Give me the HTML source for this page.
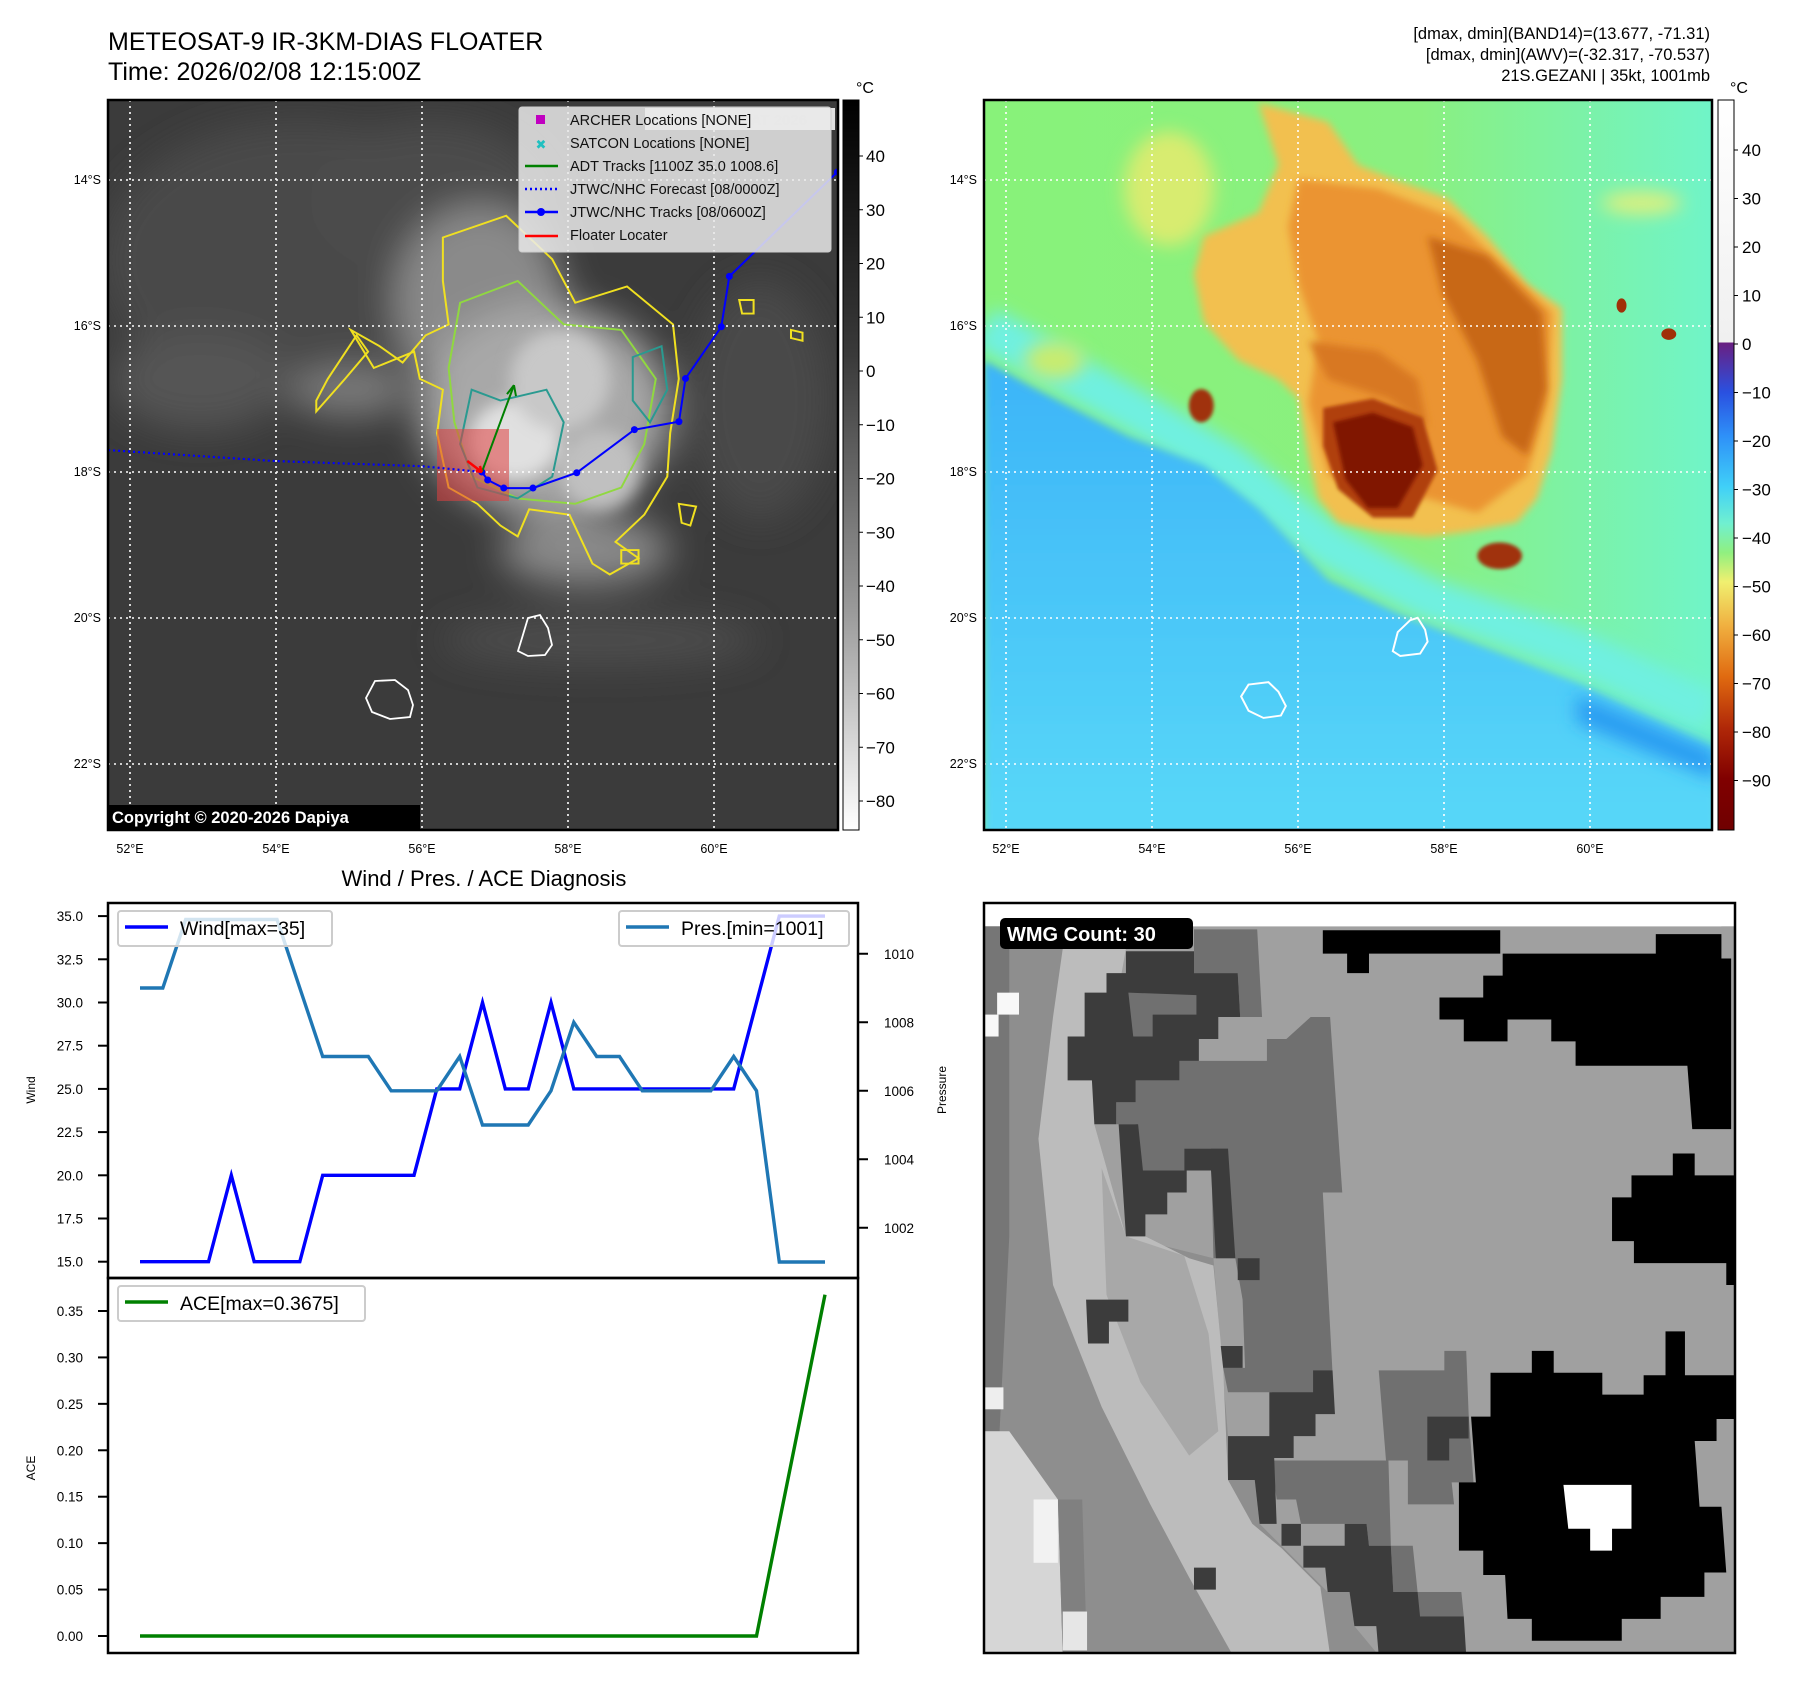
<!DOCTYPE html>
<html><head><meta charset="utf-8">
<style>
html,body{margin:0;padding:0;background:#fff;}
svg{display:block;font-family:"Liberation Sans","DejaVu Sans",sans-serif;}
</style></head>
<body>
<svg id="fig" width="1801" height="1690" viewBox="0 0 1801 1690" xmlns="http://www.w3.org/2000/svg">
<defs>
 <filter id="b20" x="-50%" y="-50%" width="200%" height="200%"><feGaussianBlur stdDeviation="18"/></filter>
 <filter id="b8" x="-50%" y="-50%" width="200%" height="200%"><feGaussianBlur stdDeviation="8"/></filter>
 <filter id="b4" x="-50%" y="-50%" width="200%" height="200%"><feGaussianBlur stdDeviation="4"/></filter>
 <clipPath id="clipL"><rect x="108" y="100" width="730" height="730"/></clipPath>
 <clipPath id="clipR"><rect x="984" y="100" width="728" height="730"/></clipPath>
 <clipPath id="clipW"><rect x="984" y="903" width="751" height="750"/></clipPath>
 <linearGradient id="cbL" x1="0" y1="0" x2="0" y2="1">
  <stop offset="0" stop-color="#000"/><stop offset="0.35" stop-color="#3a3a3a"/><stop offset="0.7" stop-color="#9a9a9a"/><stop offset="1" stop-color="#fff"/>
 </linearGradient>
 <linearGradient id="cbR" x1="0" y1="0" x2="0" y2="1">
  <stop offset="0" stop-color="#ffffff"/><stop offset="0.332" stop-color="#f0f0f0"/>
  <stop offset="0.3321" stop-color="#6a1f80"/><stop offset="0.40" stop-color="#2a50e0"/>
  <stop offset="0.46" stop-color="#2e90f8"/><stop offset="0.53" stop-color="#40d0f8"/>
  <stop offset="0.58" stop-color="#70f0d0"/><stop offset="0.62" stop-color="#90f080"/>
  <stop offset="0.66" stop-color="#f0f070"/><stop offset="0.72" stop-color="#f0b040"/>
  <stop offset="0.79" stop-color="#e06a10"/><stop offset="0.86" stop-color="#b02808"/>
  <stop offset="0.93" stop-color="#800000"/><stop offset="1" stop-color="#700000"/>
 </linearGradient>
 <linearGradient id="greenBg" x1="0" y1="0" x2="1" y2="0">
  <stop offset="0" stop-color="#88f27a"/><stop offset="0.6" stop-color="#8af080"/><stop offset="1" stop-color="#70f4c8"/>
 </linearGradient>
 <linearGradient id="blueBg" x1="0" y1="0" x2="0" y2="1">
  <stop offset="0" stop-color="#3cb4f8"/><stop offset="1" stop-color="#58d8f8"/>
 </linearGradient>
</defs>

<!-- Titles -->
<text x="108" y="50" font-size="25">METEOSAT-9 IR-3KM-DIAS FLOATER</text>
<text x="108" y="80" font-size="25">Time: 2026/02/08 12:15:00Z</text>
<g font-size="16.5" text-anchor="end">
 <text x="1710" y="39">[dmax, dmin](BAND14)=(13.677, -71.31)</text>
 <text x="1710" y="60">[dmax, dmin](AWV)=(-32.317, -70.537)</text>
 <text x="1710" y="81">21S.GEZANI | 35kt, 1001mb</text>
</g>

<!-- LEFT IR MAP -->
<g id="leftMap" clip-path="url(#clipL)">
 <rect x="108" y="100" width="730" height="730" fill="#3b3b3b"/>
 <g filter="url(#b20)">
  <ellipse cx="300" cy="260" rx="200" ry="140" fill="#4a4a4a"/>
  <ellipse cx="200" cy="380" rx="90" ry="50" fill="#555"/>
  <ellipse cx="430" cy="200" rx="120" ry="80" fill="#4c4c4c"/>
  <ellipse cx="480" cy="300" rx="85" ry="95" fill="#8a8a8a"/>
  <ellipse cx="545" cy="410" rx="125" ry="105" fill="#a8a8a8"/>
  <ellipse cx="350" cy="392" rx="60" ry="25" fill="#7a7a7a"/>
  <ellipse cx="585" cy="550" rx="85" ry="35" fill="#8a8a8a"/>
  <ellipse cx="600" cy="640" rx="160" ry="25" fill="#4e4e4e"/>
  <ellipse cx="760" cy="400" rx="70" ry="120" fill="#4a4a4a"/>
 </g>
 <g filter="url(#b8)">
  <ellipse cx="515" cy="440" rx="45" ry="40" fill="#e0e0e0"/>
  <ellipse cx="560" cy="380" rx="50" ry="50" fill="#c8c8c8"/>
  <ellipse cx="600" cy="470" rx="40" ry="40" fill="#c0c0c0"/>
 </g>
 <g transform="translate(108,100) scale(0.5754,0.5435) translate(-188,-187)" fill="none" stroke-width="3.5">
  <path d="M770,440 L880,400 L960,480 L1000,560 L1090,530 L1170,600 L1180,700 L1165,800 L1160,880 L1120,950 L1070,1000 L1110,1030 L1060,1060 L1030,1040 L990,950 L920,940 L900,990 L870,970 L830,930 L780,900 L760,800 L770,720 L730,700 L720,650 L650,680 L610,610 L660,640 L700,670 L740,620 L780,600 L770,520 Z" stroke="#f0e020"/>
  <path d="M550,760 L600,700 L640,650 L620,620 L570,700 L550,740 Z" stroke="#f0e020"/>
  <path d="M800,560 L900,520 L980,600 L1080,610 L1140,700 L1120,820 L1080,900 L1000,930 L900,920 L820,880 L790,780 L780,680 Z" stroke="#90d840"/>
  <path d="M820,720 L870,740 L950,720 L980,780 L960,880 L900,920 L830,900 L800,820 Z" stroke="#2a9a90"/>
  <path d="M1100,660 L1150,640 L1160,720 L1130,780 L1100,740 Z" stroke="#2a9a90"/>
  <path d="M1285,555 L1310,555 L1310,580 L1290,580 Z M1375,610 L1395,615 L1395,630 L1375,625 Z M1180,930 L1210,935 L1200,970 L1185,965 Z M1080,1015 L1110,1015 L1110,1040 L1080,1040 Z" stroke="#f0e020"/>
 </g>
 <path d="M528,618 L540,615 L548,628 L552,645 L545,655 L528,656 L518,651 L522,638 Z" fill="none" stroke="#fff" stroke-width="1.8"/>
 <path d="M375,681 L395,680 L408,690 L413,705 L410,717 L390,719 L372,712 L366,698 Z" fill="none" stroke="#fff" stroke-width="1.8"/>
 <rect x="437" y="429" width="72" height="72" fill="#e04040" fill-opacity="0.55"/>
 <g id="gridL" stroke="#fff" stroke-width="1.6" stroke-dasharray="2,4"></g>
 <g id="tracksL"></g>
 <rect x="645" y="108" width="190" height="22" fill="#fff" fill-opacity="0.85"/>
 <text x="740" y="125" font-size="15" font-weight="bold" fill="#ddd" text-anchor="middle">© EUMETSAT 2026</text>
</g>
<rect x="108" y="100" width="730" height="730" fill="none" stroke="#000" stroke-width="2.5"/>
<g>
 <rect x="519" y="107" width="312" height="145" rx="3" fill="#eaeaea" fill-opacity="0.85" stroke="#ccc"/>
 <rect x="536" y="115" width="9" height="9" fill="#c000c0"/>
 <text x="541" y="149" font-size="13" font-weight="bold" fill="#20c0c0" text-anchor="middle">✖</text>
 <line x1="525" y1="166" x2="558" y2="166" stroke="#008000" stroke-width="2.5"/>
 <line x1="525" y1="189" x2="558" y2="189" stroke="#0000ff" stroke-width="2.5" stroke-dasharray="2,3"/>
 <line x1="525" y1="212" x2="558" y2="212" stroke="#0000ff" stroke-width="2.5"/><circle cx="541" cy="212" r="4" fill="#0000ff"/>
 <line x1="525" y1="236" x2="558" y2="236" stroke="#ff0000" stroke-width="2.5"/>
 <g font-size="14.5" fill="#111">
  <text x="570" y="125">ARCHER Locations [NONE]</text>
  <text x="570" y="148">SATCON Locations [NONE]</text>
  <text x="570" y="171">ADT Tracks [1100Z 35.0 1008.6]</text>
  <text x="570" y="194">JTWC/NHC Forecast [08/0000Z]</text>
  <text x="570" y="217">JTWC/NHC Tracks [08/0600Z]</text>
  <text x="570" y="240">Floater Locater</text>
 </g>
</g>
<rect x="108" y="805" width="312" height="25" fill="#000"/>
<text x="112" y="823" font-size="16.5" font-weight="bold" fill="#fff">Copyright © 2020-2026 Dapiya</text>

<rect x="843" y="100" width="16" height="730" fill="url(#cbL)" stroke="#000" stroke-width="1"/>
<text x="856" y="93" font-size="16">°C</text>
<g id="cbLticks" font-size="17"></g>

<!-- RIGHT AWV MAP -->
<g clip-path="url(#clipR)">
 <rect x="984" y="100" width="728" height="730" fill="url(#greenBg)"/>
 <g transform="translate(984,100) scale(0.4973,0.4768) translate(-8,-14)">
  <path d="M8,490 L300,660 L500,780 L700,950 L900,1060 L1200,1170 L1470,1300" fill="none" stroke="#70f0e0" stroke-width="90" filter="url(#b20)"/>
  <path d="M8,560 L150,640 L300,720 L450,780 L560,870 L700,1020 L850,1095 L1000,1155 L1200,1235 L1400,1335 L1480,1375 L1480,1560 L8,1560 Z" fill="url(#blueBg)" filter="url(#b8)"/>
  <path d="M1200,1260 L1480,1380 L1480,1440 L1200,1320 Z" fill="#2a9cf2" filter="url(#b20)"/>
  <g filter="url(#b20)">
   <ellipse cx="380" cy="200" rx="90" ry="120" fill="#d8ec70"/>
   <ellipse cx="1330" cy="230" rx="80" ry="25" fill="#d8f080"/>
   <ellipse cx="150" cy="560" rx="60" ry="40" fill="#c8ec70"/>
  </g>
  <path d="M560,20 L700,60 L760,150 L830,180 L940,220 L1020,300 L1100,400 L1170,450 L1170,600 L1150,750 L1120,850 L1080,900 L980,920 L900,930 L800,920 L720,900 L680,850 L660,760 L640,640 L600,600 L520,560 L450,480 L430,380 L450,300 L560,250 L600,150 Z" fill="#f2c050" filter="url(#b8)"/>
  <path d="M640,180 L800,200 L950,260 L1050,360 L1150,460 L1140,650 L1100,800 L1000,880 L900,850 L800,850 L700,800 L660,650 L680,520 L640,400 L620,280 Z" fill="#eb9430" filter="url(#b8)"/>
  <path d="M900,300 L1020,340 L1130,460 L1140,620 L1100,760 L1050,720 L1000,560 L930,420 Z" fill="#c86818" filter="url(#b8)"/>
  <path d="M660,520 L800,540 L880,600 L900,700 L820,640 L700,600 Z" fill="#d87820" filter="url(#b8)"/>
  <path d="M690,660 L790,640 L890,680 L920,790 L870,890 L790,890 L720,830 L690,740 Z" fill="#b04010" filter="url(#b4)"/>
  <path d="M710,690 L790,670 L870,700 L890,780 L840,870 L780,870 L735,810 Z" fill="#801400" filter="url(#b4)"/>
  <ellipse cx="445" cy="655" rx="25" ry="35" fill="#a03008" filter="url(#b4)"/>
  <ellipse cx="1045" cy="970" rx="45" ry="28" fill="#a03008" filter="url(#b4)"/>
  <ellipse cx="1290" cy="445" rx="10" ry="15" fill="#a03008"/>
  <ellipse cx="1385" cy="505" rx="15" ry="12" fill="#a03008"/>
  <path d="M865,1105 L880,1100 L895,1125 L900,1150 L885,1175 L845,1180 L830,1170 L840,1130 Z" fill="none" stroke="#fff" stroke-width="4"/>
  <path d="M540,1240 L580,1235 L600,1255 L615,1285 L605,1305 L570,1310 L540,1295 L525,1265 Z" fill="none" stroke="#fff" stroke-width="4"/>
 </g>
 <g id="gridR" stroke="#fff" stroke-width="1.6" stroke-dasharray="2,4"></g>
</g>
<rect x="984" y="100" width="728" height="730" fill="none" stroke="#000" stroke-width="2.5"/>
<rect x="1718" y="100" width="16" height="730" fill="url(#cbR)" stroke="#000" stroke-width="1"/>
<text x="1730" y="93" font-size="16">°C</text>
<g id="cbRticks" font-size="17"></g>
<g id="mapLabels" font-size="12.5"></g>

<!-- WIND / PRES / ACE -->
<text x="484" y="886" font-size="22" text-anchor="middle">Wind / Pres. / ACE Diagnosis</text>
<g id="chart"></g>

<!-- WMG panel -->
<g clip-path="url(#clipW)">
 <rect x="984" y="903" width="751" height="750" fill="#a0a0a0"/>
 <g transform="translate(984,903) scale(0.4861,0.4873) translate(-8,-16)">
  <rect x="8" y="16" width="1545" height="48" fill="#fff"/>
  <rect x="1525" y="64" width="28" height="68" fill="#a0a0a0"/>
  <path d="M8,64 L300,64 L235,470 L300,700 L480,745 L510,1110 L565,1200 L575,1290 L665,1380 L715,1430 L760,1430 L770,1500 L820,1560 L8,1560 Z" fill="#8e8e8e"/>
  <path d="M170,110 L300,110 L235,470 L300,700 L340,700 L430,745 L480,760 L500,970 L510,1200 L560,1290 L620,1340 L700,1420 L720,1560 L520,1560 L430,1400 L350,1250 L250,1050 L150,800 L120,500 L150,250 Z" fill="#bcbcbc"/>
  <path d="M250,560 L300,700 L420,740 L470,900 L490,1100 L430,1150 L330,1000 L260,820 Z" fill="#a8a8a8"/>
  <path d="M8,64 L60,64 L60,700 L40,1100 L8,1100 Z" fill="#767676"/>
  <path d="M8,1100 L60,1100 L160,1240 L170,1560 L8,1560 Z" fill="#d6d6d6"/>
  <path d="M160,1240 L210,1240 L220,1560 L170,1560 Z" fill="#808080"/>
  <rect x="35" y="200" width="45" height="45" fill="#f8f8f8"/><rect x="8" y="245" width="30" height="45" fill="#f8f8f8"/>
  <rect x="8" y="1010" width="40" height="45" fill="#eee"/><rect x="110" y="1240" width="50" height="130" fill="#f2f2f2"/>
  <rect x="170" y="1470" width="50" height="80" fill="#e6e6e6"/>
  <path d="M320,380 L410,380 L410,340 L590,340 L590,295 L630,295 L680,250 L720,250 L745,610 L705,610 L725,980 L690,980 L690,1065 L600,1065 L600,1020 L510,1020 L500,970 L545,970 L540,830 L525,745 L480,745 L475,520 L420,520 L420,565 L330,565 L320,470 L280,470 L280,425 L320,425 Z" fill="#707070"/>
  <path d="M440,70 L570,70 L580,250 L535,250 L530,160 L440,160 Z" fill="#707070"/>
  <path d="M820,975 L955,975 L955,935 L1000,935 L1005,1065 L1015,1205 L970,1205 L975,1250 L880,1250 L880,1160 L835,1160 Z" fill="#707070"/>
  <path d="M600,1160 L700,1160 L750,1160 L840,1160 L845,1335 L800,1335 L795,1290 L660,1290 L650,1240 L610,1240 Z" fill="#707070"/>
  <path d="M845,1335 L890,1335 L900,1430 L990,1430 L995,1480 L905,1480 L850,1430 Z" fill="#707070"/>
  <path d="M300,115 L440,115 L440,160 L530,160 L535,250 L490,250 L490,295 L450,295 L450,340 L410,340 L410,380 L320,380 L320,425 L280,425 L280,470 L235,470 L230,380 L180,380 L180,290 L215,290 L215,200 L260,200 L260,160 L300,160 Z" fill="#3c3c3c"/>
  <path d="M305,200 L445,205 L445,245 L355,245 L355,290 L315,290 Z" fill="#707070"/>
  <path d="M285,470 L325,470 L335,565 L425,565 L425,610 L385,610 L385,655 L340,655 L340,700 L300,700 Z" fill="#3c3c3c"/>
  <path d="M420,520 L510,520 L525,745 L485,745 L475,565 L420,565 Z" fill="#3c3c3c"/>
  <path d="M595,1020 L685,1020 L685,975 L725,975 L730,1065 L690,1065 L690,1110 L645,1110 L645,1155 L605,1155 L610,1290 L575,1290 L565,1200 L510,1200 L510,1110 L595,1110 Z" fill="#3c3c3c"/>
  <path d="M665,1335 L750,1335 L750,1290 L795,1290 L800,1335 L845,1335 L850,1430 L900,1430 L905,1480 L995,1480 L1000,1560 L820,1560 L815,1500 L770,1500 L760,1430 L715,1430 L710,1380 L665,1380 Z" fill="#3c3c3c"/>
  <path d="M920,1070 L1005,1070 L1005,1115 L965,1115 L965,1160 L920,1160 Z M218,830 L305,830 L305,875 L265,875 L265,920 L222,920 Z M495,925 L540,925 L540,970 L500,970 Z M530,745 L575,745 L575,790 L530,790 Z M440,1380 L485,1380 L485,1425 L440,1425 Z M620,1290 L660,1290 L660,1335 L620,1335 Z" fill="#3c3c3c"/>
  <path d="M705,72 L1070,72 L1070,120 L800,120 L800,160 L755,160 L755,120 L705,120 Z" fill="#000"/>
  <path d="M1075,120 L1390,120 L1390,80 L1525,80 L1525,130 L1545,130 L1545,480 L1465,480 L1455,350 L1225,350 L1225,300 L1175,300 L1175,255 L1085,255 L1085,300 L995,300 L995,255 L945,255 L945,210 L1035,210 L1035,165 L1075,165 Z" fill="#000"/>
  <path d="M1425,530 L1470,530 L1470,575 L1553,575 L1553,800 L1535,800 L1535,755 L1345,755 L1345,710 L1300,710 L1300,620 L1340,620 L1340,575 L1425,575 Z" fill="#000"/>
  <path d="M1050,980 L1135,980 L1135,935 L1180,935 L1180,980 L1280,980 L1280,1025 L1365,1025 L1365,985 L1410,985 L1410,895 L1450,895 L1450,985 L1553,985 L1553,1075 L1515,1075 L1515,1120 L1470,1120 L1480,1255 L1525,1255 L1535,1390 L1490,1390 L1490,1440 L1400,1440 L1400,1485 L1320,1485 L1320,1530 L1135,1530 L1135,1485 L1085,1485 L1080,1395 L1035,1395 L1035,1345 L985,1345 L985,1205 L1020,1205 L1010,1070 L1050,1070 Z" fill="#000"/>
  <path d="M1200,1210 L1340,1210 L1340,1300 L1300,1300 L1300,1345 L1255,1345 L1255,1300 L1210,1300 Z" fill="#fff"/>
 </g>
</g>
<rect x="984" y="903" width="751" height="750" fill="none" stroke="#000" stroke-width="2.5"/>
<rect x="1000" y="918" width="193" height="31" rx="5" fill="#000"/>
<text x="1007" y="941" font-size="20" font-weight="bold" fill="#fff">WMG Count: 30</text>

<script>
const windValues = [15,15,15,15,20,15,15,15,20,20,20,20,20,25,25,30,25,25,30,25,25,25,25,25,25,25,25,30,35,35,35];
const presValues = [1009,1009,1011,1011,1011,1011,1011,1009,1007,1007,1007,1006,1006,1006,1007,1005,1005,1005,1006,1008,1007,1007,1006,1006,1006,1006,1007,1006,1001,1001,1001];
const aceValues = [0,0,0,0,0,0,0,0,0,0,0,0,0,0,0,0,0,0,0,0,0,0,0,0,0,0,0,0,0.1225,0.245,0.3675];
const windTicks = [15,17.5,20,22.5,25,27.5,30,32.5,35];
const presTicks = [1002,1004,1006,1008,1010];
const aceTicks = [0,0.05,0.1,0.15,0.2,0.25,0.3,0.35];
const trackLon = [56.82,56.90,57.12,57.52,58.12,58.91,59.52,59.61,60.10,60.21,61.69,62.6];
const trackLat = [18.00,18.11,18.22,18.22,18.01,17.42,17.31,16.72,16.01,15.32,13.89,13.2];
const fcstLon = [51.7,54.0,56.0,56.82];
const fcstLat = [17.7,17.85,17.92,18.0];
const adtLon = [56.82,57.26];
const adtLat = [18.0,16.81];
const gridLons = [52,54,56,58,60];
const gridLats = [14,16,18,20,22];
const cbLTicks = [40,30,20,10,0,-10,-20,-30,-40,-50,-60,-70,-80];
const cbRTicks = [40,30,20,10,0,-10,-20,-30,-40,-50,-60,-70,-80,-90];

const NS='http://www.w3.org/2000/svg';
function mk(tag, attrs, parent){const e=document.createElementNS(NS,tag);for(const k in attrs)e.setAttribute(k,attrs[k]);if(parent)parent.appendChild(e);return e;}

const X0=140, XSTEP=(825-140)/(windValues.length-1);
const xAt = i => X0 + i*XSTEP;
const yWind = v => 1261.7 - (v-15)*17.28;
const yPres = v => 1262 - (v-1001)*34.25;
const yAce = v => 1636 - v*928.6;
const chart=document.getElementById('chart');
const ax1=mk('rect',{x:108,y:903,width:750,height:375,fill:'none',stroke:'#000','stroke-width':2.5},chart);


const ax2=mk('rect',{x:108,y:1278,width:750,height:375,fill:'none',stroke:'#000','stroke-width':2.5},chart);


function tick(x1,y,x2,label,tx,anchor,name){
  mk('line',{x1:x1,y1:y,x2:x2,y2:y,stroke:'#000','stroke-width':2},chart);
  const t=mk('text',{x:tx,y:y+5,'font-size':13.5,'text-anchor':anchor},chart);
  t.textContent=label;
  
  
}
windTicks.forEach(v=>tick(98,yWind(v),108,v.toFixed(1),83,'end','wind-tick-label'));
presTicks.forEach(v=>tick(858,yPres(v),868,String(v),884,'start','pressure-tick-label'));
aceTicks.forEach(v=>tick(98,yAce(v),108,v.toFixed(2),83,'end','ace-tick-label'));
function vlabel(x,y,txt,name){const t=mk('text',{x:x,y:y,'font-size':12,'text-anchor':'middle',transform:`rotate(-90 ${x} ${y})`},chart);t.textContent=txt;}
vlabel(35,1090,'Wind','wind-axis-title');
vlabel(946,1090,'Pressure','pressure-axis-title');
vlabel(35,1468,'ACE','ace-axis-title');
function series(vals,yf,color,name){
  const d=vals.map((v,i)=>(i?'L':'M')+xAt(i).toFixed(1)+','+yf(v).toFixed(1)).join(' ');
  const p=mk('path',{d:d,fill:'none',stroke:color,'stroke-width':3.4,'stroke-linejoin':'miter'},chart);
  
  
}
series(windValues,yWind,'#0000ff','wind-line');
series(presValues,yPres,'#1f77b4','pressure-line');
series(aceValues,yAce,'#008000','ace-line');
function legend(x,w,y,color,txt,name){
  const g=mk('g',{},chart);
  
  
  mk('rect',{x:x,y:y,width:w,height:35,rx:3,fill:'#fff','fill-opacity':0.8,stroke:'#ccc','stroke-width':2},g);
  mk('line',{x1:x+7,y1:y+16,x2:x+50,y2:y+16,stroke:color,'stroke-width':3.4},g);
  const t=mk('text',{x:x+62,y:y+24,'font-size':19.5},g);t.textContent=txt;
}
legend(118,214,911,'#0000ff','Wind[max=35]','wind-legend');
legend(619,230,911,'#1f77b4','Pres.[min=1001]','pressure-legend');
legend(118,247,1286,'#008000','ACE[max=0.3675]','ace-legend');

const lonXL = l => 130 + (l-52)*73;
const latYL = l => 180 + (l-14)*73;
const lonXR = l => 1006 + (l-52)*73;
const gridL=document.getElementById('gridL'), gridR=document.getElementById('gridR');
gridLons.forEach(l=>{mk('line',{x1:lonXL(l),y1:100,x2:lonXL(l),y2:830},gridL);mk('line',{x1:lonXR(l),y1:100,x2:lonXR(l),y2:830},gridR);});
gridLats.forEach(l=>{mk('line',{x1:108,y1:latYL(l),x2:838,y2:latYL(l)},gridL);mk('line',{x1:984,y1:latYL(l),x2:1712,y2:latYL(l)},gridR);});
const ml=document.getElementById('mapLabels');
gridLons.forEach(l=>{
  [lonXL(l),lonXR(l)].forEach(x=>{const t=mk('text',{x:x,y:853,'text-anchor':'middle'},ml);t.textContent=l+'°E';});
});
gridLats.forEach(l=>{
  [101,977].forEach(x=>{const t=mk('text',{x:x,y:latYL(l)+4,'text-anchor':'end'},ml);t.textContent=l+'°S';});
});
const tr=document.getElementById('tracksL');
const poly=(lons,lats)=>lons.map((l,i)=>(i?'L':'M')+lonXL(l).toFixed(1)+','+latYL(lats[i]).toFixed(1)).join(' ');
const fc=mk('path',{d:poly(fcstLon,fcstLat),fill:'none',stroke:'#0000ff','stroke-width':2.2,'stroke-dasharray':'2,3'},tr);


const tk=mk('path',{d:poly(trackLon,trackLat),fill:'none',stroke:'#0000ff','stroke-width':2},tr);


trackLon.forEach((l,i)=>{const c=mk('circle',{cx:lonXL(l),cy:latYL(trackLat[i]),r:3.5,fill:'#0000ff'},tr);});
const ad=mk('path',{d:poly(adtLon,adtLat),fill:'none',stroke:'#008000','stroke-width':2},tr);


const ax=lonXL(adtLon[1]), ay=latYL(adtLat[1]);
mk('path',{d:`M${ax},${ay} l-7,9 M${ax},${ay} l2,11`,stroke:'#008000','stroke-width':2,fill:'none'},tr);
const fl=mk('path',{d:`M${lonXL(56.62)},${latYL(17.85)} L${lonXL(56.82)},${latYL(18.0)} l-6,-1 M${lonXL(56.82)},${latYL(18.0)} l-2,-6`,stroke:'#ff0000','stroke-width':2.5,fill:'none'},tr);


const cbl=document.getElementById('cbLticks');
cbLTicks.forEach(v=>{const y=156+(40-v)*5.375;mk('line',{x1:859,y1:y,x2:863,y2:y,stroke:'#000'},cbl);const t=mk('text',{x:866,y:y+6},cbl);t.textContent=(v<0?'−'+(-v):v);});
const cbr=document.getElementById('cbRticks');
cbRTicks.forEach(v=>{const y=150+(40-v)*4.85;mk('line',{x1:1734,y1:y,x2:1738,y2:y,stroke:'#000'},cbr);const t=mk('text',{x:1742,y:y+6},cbr);t.textContent=(v<0?'−'+(-v):v);});
</script>
</svg>
</body></html>
